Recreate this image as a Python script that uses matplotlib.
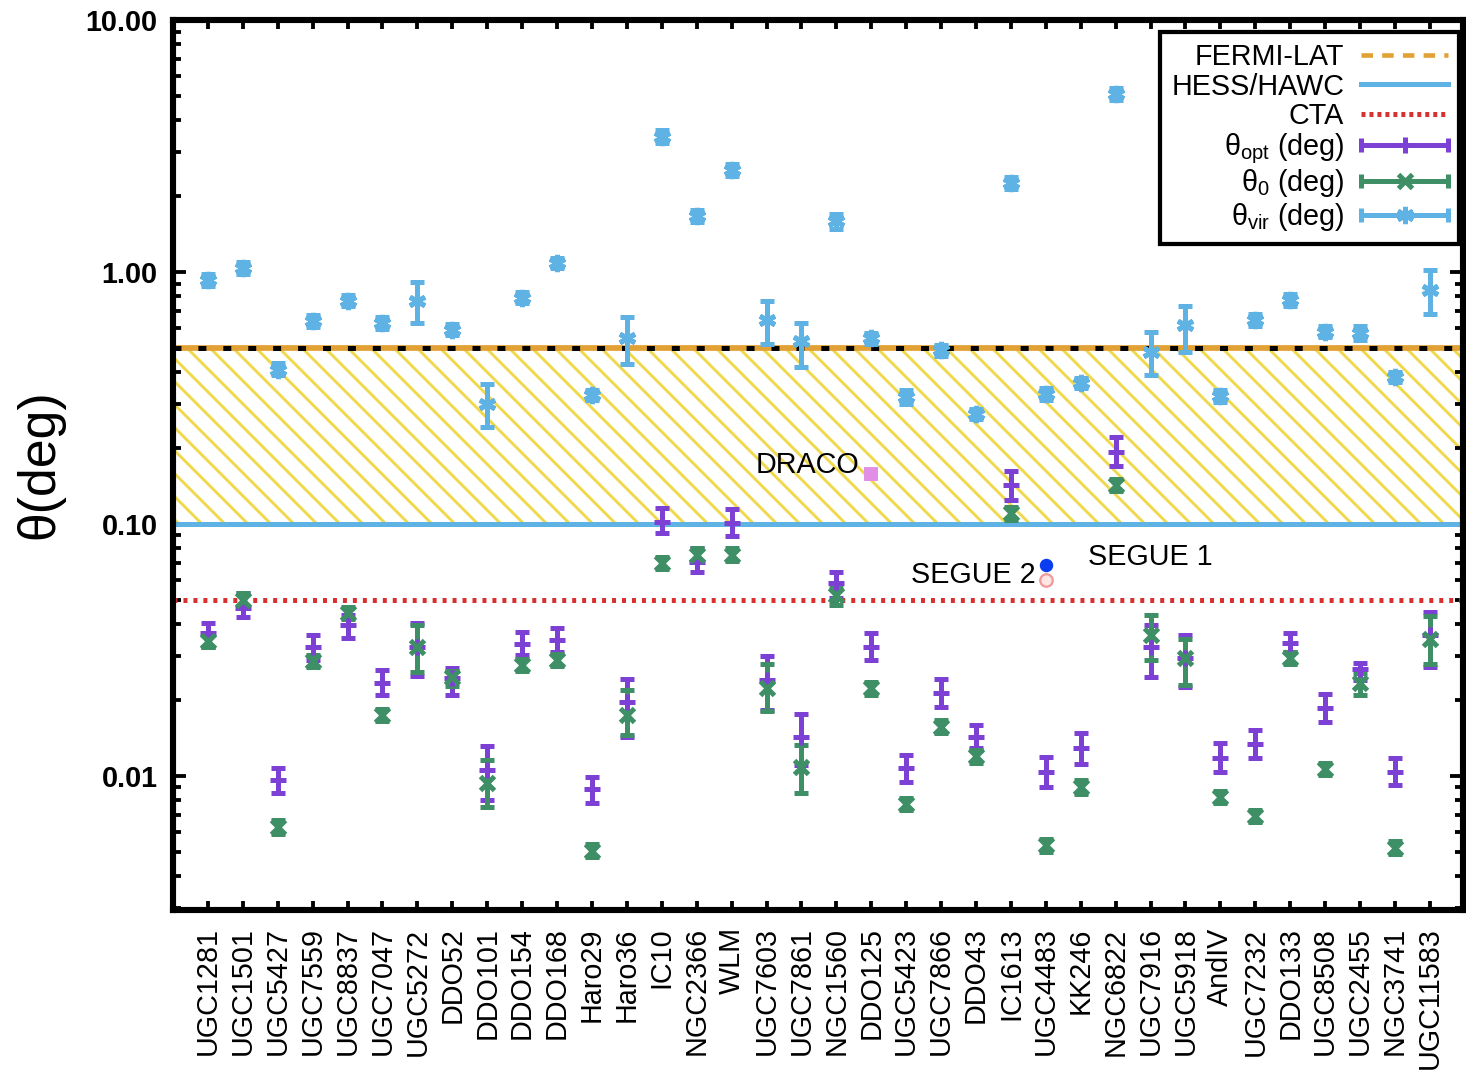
import numpy as np
import matplotlib
matplotlib.use("Agg")
import matplotlib.pyplot as plt
from matplotlib.lines import Line2D
from matplotlib.container import ErrorbarContainer
from matplotlib.legend_handler import HandlerBase
from matplotlib.ticker import FormatStrFormatter, NullFormatter, LogLocator

plt.rcParams["font.family"] = ["Liberation Sans", "DejaVu Sans"]
plt.rcParams["mathtext.fontset"] = "custom"
plt.rcParams["mathtext.rm"] = "Liberation Sans"
plt.rcParams["mathtext.it"] = "Liberation Sans:italic"
plt.rcParams["hatch.linewidth"] = 1.5

galaxies = ["UGC1281", "UGC1501", "UGC5427", "UGC7559", "UGC8837", "UGC7047",
            "UGC5272", "DDO52", "DDO101", "DDO154", "DDO168", "Haro29", "Haro36",
            "IC10", "NGC2366", "WLM", "UGC7603", "UGC7861", "NGC1560", "DDO125",
            "UGC5423", "UGC7866", "DDO43", "IC1613", "UGC4483", "KK246", "NGC6822",
            "UGC7916", "UGC5918", "AndIV", "UGC7232", "DDO133", "UGC8508",
            "UGC2455", "NGC3741", "UGC11583"]

# theta_vir (deg) with lower / upper ends of the error bars
theta_vir = [0.93, 1.04, 0.41, 0.64, 0.77, 0.63, 0.77, 0.59, 0.30, 0.79, 1.09, 0.325,
             0.547, 3.43, 1.67, 2.54, 0.645, 0.53, 1.59, 0.547, 0.32, 0.49, 0.273,
             2.26, 0.328, 0.363, 5.09, 0.48, 0.616, 0.322, 0.645, 0.774, 0.578,
             0.573, 0.383, 0.85]
theta_vir_lo = [0.88, 0.98, 0.39, 0.605, 0.73, 0.595, 0.63, 0.56, 0.243, 0.75, 1.04, 0.31,
                0.43, 3.25, 1.58, 2.41, 0.52, 0.42, 1.48, 0.52, 0.30, 0.465, 0.26,
                2.14, 0.31, 0.345, 4.82, 0.39, 0.48, 0.305, 0.61, 0.735, 0.55,
                0.535, 0.365, 0.68]
theta_vir_hi = [0.98, 1.10, 0.435, 0.675, 0.81, 0.665, 0.91, 0.62, 0.36, 0.83, 1.14, 0.34,
                0.66, 3.65, 1.76, 2.68, 0.77, 0.63, 1.70, 0.575, 0.34, 0.515, 0.287,
                2.38, 0.345, 0.38, 5.36, 0.578, 0.73, 0.34, 0.68, 0.815, 0.61,
                0.61, 0.40, 1.02]

# theta_opt (deg)
theta_opt = [0.0369, 0.0464, 0.00964, 0.0325, 0.0398, 0.0234, 0.0325, 0.0245, 0.01056,
             0.0334, 0.0347, 0.00888, 0.0197, 0.1019, 0.0707, 0.101, 0.0240, 0.0143,
             0.0583, 0.0325, 0.01076, 0.0213, 0.0143, 0.1428, 0.01037, 0.0129, 0.193,
             0.0325, 0.0294, 0.01178, 0.0134, 0.0337, 0.0186, 0.0266, 0.01037, 0.0362]
theta_opt_lo = [0.0325, 0.0428, 0.00857, 0.0289, 0.0353, 0.0210, 0.0249, 0.0210, 0.00803,
                0.0302, 0.0310, 0.00782, 0.0143, 0.0921, 0.0645, 0.0896, 0.0183, 0.01106,
                0.0508, 0.0289, 0.00947, 0.0188, 0.0129, 0.1245, 0.00904, 0.01117, 0.170,
                0.0247, 0.0225, 0.01037, 0.01178, 0.0310, 0.0164, 0.0240, 0.0092, 0.0271]
theta_opt_hi = [0.0405, 0.0532, 0.01076, 0.0362, 0.0435, 0.0263, 0.0405, 0.0268, 0.01315,
                0.0373, 0.0385, 0.0099, 0.0243, 0.1157, 0.0803, 0.1148, 0.0299, 0.0176,
                0.0645, 0.0369, 0.01212, 0.0243, 0.0159, 0.162, 0.0119, 0.01482, 0.2215,
                0.0397, 0.0362, 0.01352, 0.01524, 0.0369, 0.0211, 0.0281, 0.01178, 0.0448]

# theta_0 (deg)
theta_0 = [0.0343, 0.050, 0.00628, 0.0286, 0.0443, 0.01746, 0.0325, 0.0247, 0.00938,
           0.0276, 0.0289, 0.00504, 0.0175, 0.070, 0.0753, 0.0753, 0.0223, 0.01086,
           0.0523, 0.0223, 0.00774, 0.01565, 0.0120, 0.1106, 0.00532, 0.00904, 0.1428,
           0.0362, 0.0294, 0.00826, 0.00694, 0.0294, 0.01066, 0.0234, 0.00518, 0.035]
theta_0_lo = [0.0325, 0.047, 0.0059, 0.027, 0.042, 0.0165, 0.0259, 0.0228, 0.00753,
              0.026, 0.0273, 0.00475, 0.01455, 0.066, 0.071, 0.071, 0.0181, 0.00857,
              0.0475, 0.021, 0.0073, 0.0148, 0.0113, 0.104, 0.0050, 0.0085, 0.135,
              0.0289, 0.023, 0.0078, 0.00655, 0.0278, 0.0101, 0.021, 0.0049, 0.0278]
theta_0_hi = [0.0362, 0.053, 0.0067, 0.0303, 0.047, 0.0185, 0.0397, 0.0262, 0.01157,
              0.029, 0.0305, 0.00535, 0.0219, 0.074, 0.080, 0.080, 0.0278, 0.01327,
              0.0558, 0.0236, 0.0082, 0.0166, 0.0127, 0.117, 0.00563, 0.0096, 0.151,
              0.0435, 0.035, 0.00875, 0.00735, 0.031, 0.0113, 0.0256, 0.0055, 0.0431]

# instrument limits (deg)
fermi_lat = 0.5
hess_hawc = 0.1
cta = 0.05

# reference dwarfs, placed at the slot of a galaxy
draco_slot, draco_theta = "DDO125", 0.158
segue_slot = "UGC4483"
segue1_theta = 0.0687
segue2_theta = 0.060

purple = "#7d40d4"
green = "#3f8f66"
blue = "#5fb2e4"
orange = "#e2a134"
red = "#d83030"
yellow = "#efd84c"

DPI = 138
W, H = 1466, 1081
fig = plt.figure(figsize=(W / DPI, H / DPI), dpi=DPI)
ax = fig.add_axes([173 / W, 1 - 910 / H, (1463 - 173) / W, (910 - 20) / H])
ax.set_yscale("log")

x = np.arange(1, len(galaxies) + 1)

ax.axhspan(hess_hawc, fermi_lat, facecolor="none", edgecolor=yellow, hatch="\\\\",
           lw=0, zorder=1)
ax.axhline(fermi_lat, color=orange, lw=3.0, zorder=2)
ax.axhline(fermi_lat, color="black", lw=2.6, dashes=(1.6, 3.4), zorder=2.1)
ax.axhline(hess_hawc, color=blue, lw=2.6, zorder=2)
ax.axhline(cta, color=red, lw=2.6, dashes=(0.8, 1.2), zorder=2)


def errbar(vals, lo, hi, color, marker, ms):
    v = np.array(vals)
    err = [v - np.array(lo), np.array(hi) - v]
    return ax.errorbar(x, v, yerr=err, marker=marker, ls="none", ms=ms, mew=2.6,
                       color=color, ecolor=color, elinewidth=2.6, capsize=3.9,
                       capthick=2.6, zorder=3)


e_vir = errbar(theta_vir, theta_vir_lo, theta_vir_hi, blue, (6, 2, 0), 9)
e_opt = errbar(theta_opt, theta_opt_lo, theta_opt_hi, purple, "+", 8)
e_0 = errbar(theta_0, theta_0_lo, theta_0_hi, green, "x", 7)

xd = galaxies.index(draco_slot) + 1
ax.plot([xd], [draco_theta], "s", ms=6.5, color="#e08ee6", zorder=4)
ax.text(xd - 0.35, 0.171, "DRACO", ha="right", va="center", fontsize=15, zorder=5)

xs = galaxies.index(segue_slot) + 1
ax.plot([xs], [segue1_theta], "o", ms=6, color="#0a3cf0", zorder=4)
ax.plot([xs], [segue2_theta], "o", ms=6.5, mfc="#fde6e6", mec="#f09a9a", mew=1.2, zorder=4)
ax.text(xs - 0.3, 0.0628, "SEGUE 2", ha="right", va="center", fontsize=15, zorder=5)
ax.text(xs + 1.2, 0.074, "SEGUE 1", ha="left", va="center", fontsize=15, zorder=5)

ax.set_xlim(0, 36.95)
ax.set_ylim(10 ** -2.532, 10)
ax.set_xticks(x, galaxies, rotation=90, fontsize=15)
ax.yaxis.set_major_locator(LogLocator(base=10, numticks=10))
ax.yaxis.set_major_formatter(FormatStrFormatter("%.2f"))
ax.yaxis.set_minor_formatter(NullFormatter())
ax.tick_params(axis="both", which="both", direction="in", top=True, right=True, width=2)
ax.tick_params(axis="y", which="major", length=7, labelsize=15, pad=8)
ax.tick_params(axis="y", which="minor", length=4)
ax.tick_params(axis="x", length=4.5, pad=9)
for lbl in ax.get_yticklabels():
    lbl.set_fontweight("bold")
for s in ax.spines.values():
    s.set_linewidth(3.2)

fig.text(40 / W, 1 - 464 / H, "θ(deg)", rotation=90, ha="center", va="center", fontsize=27)


class GnuplotErrHandler(HandlerBase):
    def create_artists(self, legend, orig_handle, xdescent, ydescent, width, height,
                       fontsize, trans):
        line = orig_handle.lines[0]
        c = line.get_color()
        y = height / 2 - ydescent
        x0, x1 = -xdescent, width - xdescent
        bar = Line2D([x0, x1], [y, y], color=c, lw=2.6)
        caps = Line2D([x0, x1], [y, y], ls="none", marker="|", ms=7.8, mew=2.6, color=c)
        mid = Line2D([(x0 + x1) / 2], [y], ls="none", marker=line.get_marker(),
                     ms=line.get_markersize(), mew=line.get_markeredgewidth(), color=c)
        for a in (bar, caps, mid):
            a.set_transform(trans)
        return [bar, caps, mid]


handles = [Line2D([], [], color=orange, lw=2.4, dashes=(2.5, 2)),
           Line2D([], [], color=blue, lw=2.6),
           Line2D([], [], color=red, lw=2.6, dashes=(0.8, 0.8)),
           e_opt, e_0, e_vir]
labels = ["FERMI-LAT", "HESS/HAWC", "CTA", r"θ$_{\rm opt}$ (deg)",
          r"θ$_{\rm 0}$ (deg)", r"θ$_{\rm vir}$ (deg)"]
leg = ax.legend(handles, labels, loc="upper right", bbox_to_anchor=(0.997, 0.987),
                borderaxespad=0, markerfirst=False, fontsize=15, handlelength=3,
                labelspacing=0.05, handletextpad=0.6, borderpad=0.4,
                fancybox=False, framealpha=1, edgecolor="black",
                handler_map={ErrorbarContainer: GnuplotErrHandler()})
leg.get_frame().set_linewidth(2.2)
leg.set_zorder(10)

fig.savefig("out.png", dpi=DPI)
